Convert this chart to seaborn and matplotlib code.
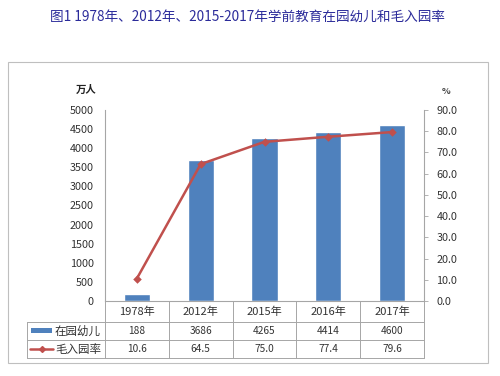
import matplotlib
matplotlib.use("Agg")
import matplotlib.pyplot as plt
import seaborn as sns
import pandas as pd
from matplotlib.lines import Line2D
from matplotlib.patches import Rectangle
from matplotlib.transforms import blended_transform_factory

years = ["1978年", "2012年", "2015年", "2016年", "2017年"]
children = [188, 3686, 4265, 4414, 4600]
rate = [10.6, 64.5, 75.0, 77.4, 79.6]
rate_labels = ["10.6", "64.5", "75.0", "77.4", "79.6"]
series_names = ["在园幼儿", "毛入园率"]
title = "图1 1978年、2012年、2015-2017年学前教育在园幼儿和毛入园率"

sns.set_theme(style="white")
plt.rcParams['font.family'] = ['Noto Sans CJK SC', 'DejaVu Sans']

W, H = 500, 376
fig = plt.figure(figsize=(5, 3.76), dpi=100)

def fx(px):
    return px / W

def fy(py):
    return 1 - py / H

BLUE = "#4F81BD"
RED = "#C0504D"
GRID = "#A6A6A6"
TXT = "#333333"

left, right, top, bottom = 105, 424, 110, 301
ax = fig.add_axes([fx(left), fy(bottom), fx(right - left), (bottom - top) / H])

df = pd.DataFrame({"year": years, "children": children, "rate": rate})
sns.barplot(data=df, x="year", y="children", color=BLUE, width=0.41,
            saturation=1, ax=ax)
ax.set_ylim(0, 5000)
ax.set_yticks(range(0, 5001, 500))
ax.set_xlim(-0.5, 4.5)
ax.set_xlabel("")
ax.set_ylabel("")
ax.set_xticks([])
ax.tick_params(axis="y", labelsize=7.8, colors=TXT, length=0, pad=8)
for s in ["top", "right"]:
    ax.spines[s].set_visible(False)
ax.spines["left"].set_color(GRID)
ax.spines["bottom"].set_color(GRID)
ax.spines["left"].set_linewidth(0.8)
ax.spines["bottom"].set_linewidth(0.8)

ax2 = ax.twinx()
sns.pointplot(data=df, x="year", y="rate", color=RED, markers="D",
              markersize=3, linewidth=1.8, ax=ax2)
ax2.set_ylim(0, 90)
ax2.set_yticks(range(0, 91, 10))
ax2.set_yticklabels([f"{v:.1f}" for v in range(0, 91, 10)])
ax2.set_xlim(-0.5, 4.5)
ax2.set_xlabel("")
ax2.set_ylabel("")
ax2.tick_params(axis="y", labelsize=7.8, colors=TXT, length=3, width=0.6,
                direction="out", pad=6)
ax2.tick_params(axis="y", color=GRID)
for s in ["top", "left", "bottom"]:
    ax2.spines[s].set_visible(False)
ax2.spines["right"].set_color(GRID)
ax2.spines["right"].set_linewidth(0.8)

# axis unit labels
fig.text(fx(86), fy(90), "万人", fontsize=7.5, fontweight="bold",
         ha="center", va="center", color="#222222")
fig.text(fx(446), fy(92), "%", fontsize=6.5, fontweight="bold",
         ha="center", va="center", color="#444444")

# title
fig.text(fx(248), fy(17), title, fontsize=9.8, color="#2B2B9A",
         ha="center", va="center")

# outer frame
fig.add_artist(Rectangle((fx(8), fy(363)), fx(480), (363 - 62) / H,
                         transform=fig.transFigure, fill=False,
                         edgecolor="#BFBFBF", linewidth=0.8))

# data table
tbl_left = 27
row_y = [301, 322, 340, 358]
lw = 0.7
for ry in row_y[1:]:
    fig.add_artist(Line2D([fx(tbl_left), fx(right)], [fy(ry)] * 2,
                          color=GRID, lw=lw))
fig.add_artist(Line2D([fx(tbl_left)] * 2, [fy(row_y[1]), fy(row_y[3])],
                      color=GRID, lw=lw))
trans = blended_transform_factory(ax.transData, fig.transFigure)
for b in [i - 0.5 for i in range(len(years) + 1)]:
    fig.add_artist(Line2D([b, b], [fy(row_y[0]), fy(row_y[3])],
                          transform=trans, color=GRID, lw=lw))

for i, y in enumerate(years):
    fig.text(i, fy(311.5), y, transform=trans, ha="center", va="center",
             fontsize=8, color=TXT)
    fig.text(i, fy(331), str(children[i]), transform=trans, ha="center",
             va="center", fontsize=7.3, color=TXT)
    fig.text(i, fy(349), rate_labels[i], transform=trans, ha="center",
             va="center", fontsize=7.3, color=TXT)

# legend keys in table
fig.add_artist(Rectangle((fx(31), fy(333)), fx(21), 5 / H,
                         transform=fig.transFigure, color=BLUE, lw=0))
fig.add_artist(Line2D([fx(30), fx(53)], [fy(349)] * 2, color=RED, lw=1.8))
fig.add_artist(Line2D([fx(41.5)], [fy(349)], color=RED, marker="D",
                      markersize=3, lw=0))
fig.text(fx(55), fy(331), series_names[0], fontsize=8.3, ha="left",
         va="center", color=TXT)
fig.text(fx(55), fy(349), series_names[1], fontsize=8.3, ha="left",
         va="center", color=TXT)

fig.savefig("out.png", dpi=100)
